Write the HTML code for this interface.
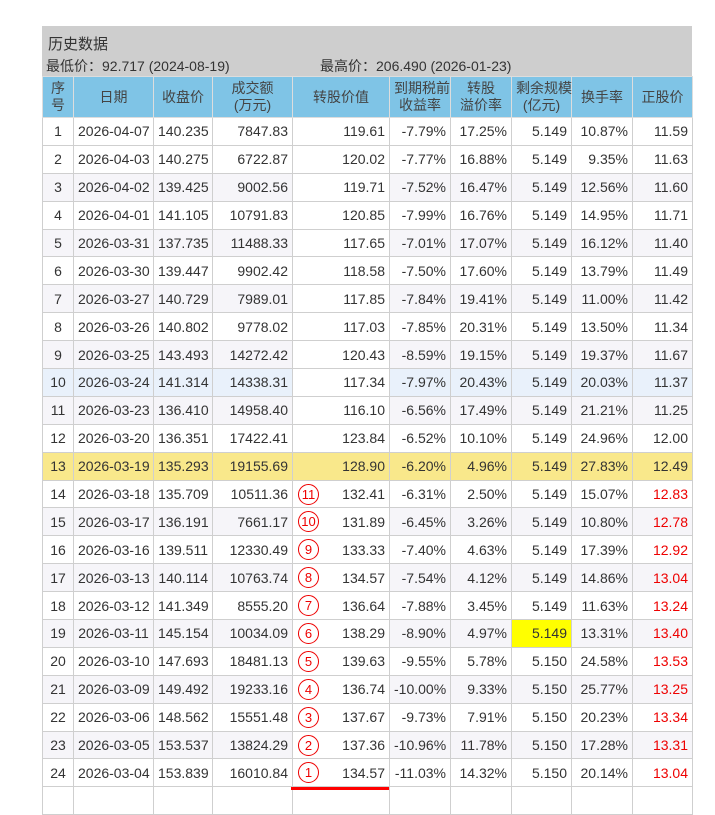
<!DOCTYPE html>
<html><head><meta charset="utf-8"><style>
body{margin:0;background:#fff;font-family:"Liberation Sans","Noto Sans CJK SC",sans-serif;}
.box{position:absolute;left:42px;top:26px;width:650px;height:50px;background:#cecece;color:#333;font-size:14px;}
.t1{position:absolute;left:6px;top:7px;font-size:15px}
.t2{position:absolute;left:4px;top:30px;font-size:14px}
.t3{position:absolute;left:278px;top:30px;font-size:14px}
table{position:absolute;left:42px;top:76px;border-collapse:collapse;table-layout:fixed;width:650px;font-size:14px;color:#333}
td,th{border:1px solid #cfcfcf;padding:0 4px;height:26.9px;text-align:right;white-space:nowrap;overflow:visible}
th{background:#7fc4e6;font-weight:normal;color:#444;text-align:center;height:40px;line-height:17px;border-color:#ddd}
td.c{text-align:center}
tr.o td{background:#f6f5f9}
tr.b td{background:#e9f1fb}
tr.y td{background:#f9e88b}
td.w{background:#fff!important;position:relative}
.r{color:#e00}
.ci{position:absolute;left:5px;top:3px;width:19px;height:19px;border:1px solid #e00;border-radius:50%;color:#e00;font-size:13px;line-height:19px;text-align:center}
.hl{background:#ffff00!important}
.ul{position:absolute;left:291px;top:787px;width:98px;height:3px;background:#f00}
</style></head><body>
<div class="box"><div class="t1">历史数据</div><div class="t2">最低价：92.717 (2024-08-19)</div><div class="t3">最高价：206.490 (2026-01-23)</div></div>
<table>
<colgroup><col style="width:31px"><col style="width:80px"><col style="width:59px"><col style="width:80px"><col style="width:97px"><col style="width:61px"><col style="width:61px"><col style="width:60px"><col style="width:61px"><col style="width:60px"></colgroup>
<tr><th>序<br>号</th><th>日期</th><th>收盘价</th><th>成交额<br>(万元)</th><th>转股价值</th><th>到期税前<br>收益率</th><th>转股<br>溢价率</th><th>剩余规模<br>(亿元)</th><th>换手率</th><th>正股价</th></tr>
<tr><td class="c">1</td><td class="c">2026-04-07</td><td>140.235</td><td>7847.83</td><td class="w">119.61</td><td>-7.79%</td><td>17.25%</td><td>5.149</td><td>10.87%</td><td>11.59</td></tr>
<tr><td class="c">2</td><td class="c">2026-04-03</td><td>140.275</td><td>6722.87</td><td class="w">120.02</td><td>-7.77%</td><td>16.88%</td><td>5.149</td><td>9.35%</td><td>11.63</td></tr>
<tr class="o"><td class="c">3</td><td class="c">2026-04-02</td><td>139.425</td><td>9002.56</td><td class="w">119.71</td><td>-7.52%</td><td>16.47%</td><td>5.149</td><td>12.56%</td><td>11.60</td></tr>
<tr><td class="c">4</td><td class="c">2026-04-01</td><td>141.105</td><td>10791.83</td><td class="w">120.85</td><td>-7.99%</td><td>16.76%</td><td>5.149</td><td>14.95%</td><td>11.71</td></tr>
<tr class="o"><td class="c">5</td><td class="c">2026-03-31</td><td>137.735</td><td>11488.33</td><td class="w">117.65</td><td>-7.01%</td><td>17.07%</td><td>5.149</td><td>16.12%</td><td>11.40</td></tr>
<tr><td class="c">6</td><td class="c">2026-03-30</td><td>139.447</td><td>9902.42</td><td class="w">118.58</td><td>-7.50%</td><td>17.60%</td><td>5.149</td><td>13.79%</td><td>11.49</td></tr>
<tr class="o"><td class="c">7</td><td class="c">2026-03-27</td><td>140.729</td><td>7989.01</td><td class="w">117.85</td><td>-7.84%</td><td>19.41%</td><td>5.149</td><td>11.00%</td><td>11.42</td></tr>
<tr><td class="c">8</td><td class="c">2026-03-26</td><td>140.802</td><td>9778.02</td><td class="w">117.03</td><td>-7.85%</td><td>20.31%</td><td>5.149</td><td>13.50%</td><td>11.34</td></tr>
<tr class="o"><td class="c">9</td><td class="c">2026-03-25</td><td>143.493</td><td>14272.42</td><td class="w">120.43</td><td>-8.59%</td><td>19.15%</td><td>5.149</td><td>19.37%</td><td>11.67</td></tr>
<tr class="b"><td class="c">10</td><td class="c">2026-03-24</td><td>141.314</td><td>14338.31</td><td class="w">117.34</td><td>-7.97%</td><td>20.43%</td><td>5.149</td><td>20.03%</td><td>11.37</td></tr>
<tr class="o"><td class="c">11</td><td class="c">2026-03-23</td><td>136.410</td><td>14958.40</td><td class="w">116.10</td><td>-6.56%</td><td>17.49%</td><td>5.149</td><td>21.21%</td><td>11.25</td></tr>
<tr><td class="c">12</td><td class="c">2026-03-20</td><td>136.351</td><td>17422.41</td><td class="w">123.84</td><td>-6.52%</td><td>10.10%</td><td>5.149</td><td>24.96%</td><td>12.00</td></tr>
<tr class="y"><td class="c">13</td><td class="c">2026-03-19</td><td>135.293</td><td>19155.69</td><td>128.90</td><td>-6.20%</td><td>4.96%</td><td>5.149</td><td>27.83%</td><td>12.49</td></tr>
<tr><td class="c">14</td><td class="c">2026-03-18</td><td>135.709</td><td>10511.36</td><td class="w"><span class="ci">11</span>132.41</td><td>-6.31%</td><td>2.50%</td><td>5.149</td><td>15.07%</td><td class="r">12.83</td></tr>
<tr class="o"><td class="c">15</td><td class="c">2026-03-17</td><td>136.191</td><td>7661.17</td><td class="w"><span class="ci">10</span>131.89</td><td>-6.45%</td><td>3.26%</td><td>5.149</td><td>10.80%</td><td class="r">12.78</td></tr>
<tr><td class="c">16</td><td class="c">2026-03-16</td><td>139.511</td><td>12330.49</td><td class="w"><span class="ci">9</span>133.33</td><td>-7.40%</td><td>4.63%</td><td>5.149</td><td>17.39%</td><td class="r">12.92</td></tr>
<tr class="o"><td class="c">17</td><td class="c">2026-03-13</td><td>140.114</td><td>10763.74</td><td class="w"><span class="ci">8</span>134.57</td><td>-7.54%</td><td>4.12%</td><td>5.149</td><td>14.86%</td><td class="r">13.04</td></tr>
<tr><td class="c">18</td><td class="c">2026-03-12</td><td>141.349</td><td>8555.20</td><td class="w"><span class="ci">7</span>136.64</td><td>-7.88%</td><td>3.45%</td><td>5.149</td><td>11.63%</td><td class="r">13.24</td></tr>
<tr class="o"><td class="c">19</td><td class="c">2026-03-11</td><td>145.154</td><td>10034.09</td><td class="w"><span class="ci">6</span>138.29</td><td>-8.90%</td><td>4.97%</td><td class="hl">5.149</td><td>13.31%</td><td class="r">13.40</td></tr>
<tr><td class="c">20</td><td class="c">2026-03-10</td><td>147.693</td><td>18481.13</td><td class="w"><span class="ci">5</span>139.63</td><td>-9.55%</td><td>5.78%</td><td>5.150</td><td>24.58%</td><td class="r">13.53</td></tr>
<tr class="o"><td class="c">21</td><td class="c">2026-03-09</td><td>149.492</td><td>19233.16</td><td class="w"><span class="ci">4</span>136.74</td><td>-10.00%</td><td>9.33%</td><td>5.150</td><td>25.77%</td><td class="r">13.25</td></tr>
<tr><td class="c">22</td><td class="c">2026-03-06</td><td>148.562</td><td>15551.48</td><td class="w"><span class="ci">3</span>137.67</td><td>-9.73%</td><td>7.91%</td><td>5.150</td><td>20.23%</td><td class="r">13.34</td></tr>
<tr class="o"><td class="c">23</td><td class="c">2026-03-05</td><td>153.537</td><td>13824.29</td><td class="w"><span class="ci">2</span>137.36</td><td>-10.96%</td><td>11.78%</td><td>5.150</td><td>17.28%</td><td class="r">13.31</td></tr>
<tr><td class="c">24</td><td class="c">2026-03-04</td><td>153.839</td><td>16010.84</td><td class="w"><span class="ci">1</span>134.57</td><td>-11.03%</td><td>14.32%</td><td>5.150</td><td>20.14%</td><td class="r">13.04</td></tr>
<tr><td class="c"></td><td></td><td></td><td></td><td class="w"></td><td></td><td></td><td></td><td></td><td></td></tr>
</table>
<div class="ul"></div>
</body></html>
